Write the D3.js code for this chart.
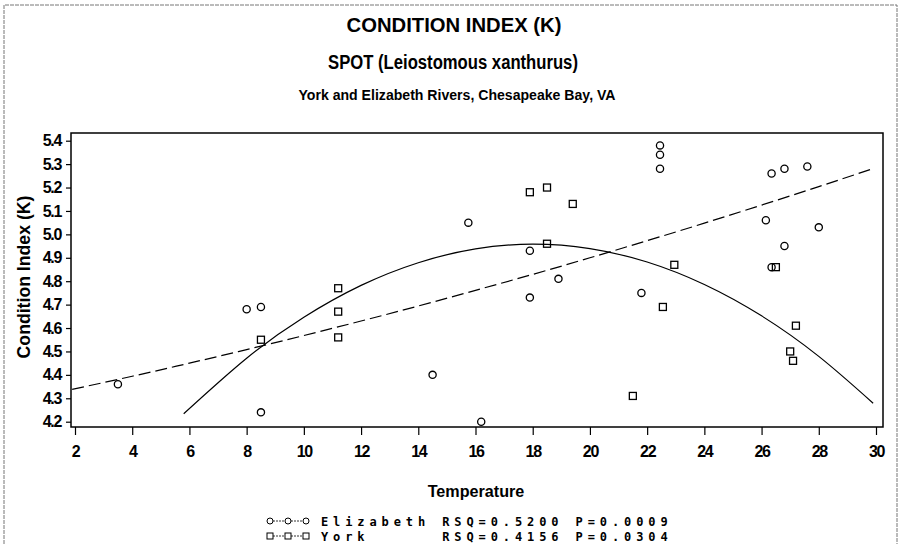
<!DOCTYPE html>
<html>
<head>
<meta charset="utf-8">
<script src="https://cdn.jsdelivr.net/npm/d3@7"></script>
<style>
  body { margin: 0; background: #fff; }
  text { font-family: "Liberation Sans", Arial, sans-serif; font-weight: bold; fill: #000; }
</style>
</head>
<body>
<div id="chart"></div>
<script>
// Data
const xTicks = [2, 4, 6, 8, 10, 12, 14, 16, 18, 20, 22, 24, 26, 28, 30];
const yTicks = [4.2, 4.3, 4.4, 4.5, 4.6, 4.7, 4.8, 4.9, 5.0, 5.1, 5.2, 5.3, 5.4];

// Elizabeth River (circles)
const elizTemp = [3.5, 8.0, 8.5, 8.5, 14.5, 15.75, 16.2, 17.9, 17.9, 18.9, 21.8, 22.45, 22.45, 22.45, 26.15, 26.35, 26.35, 26.8, 26.8, 27.6, 28.0];
const elizK    = [4.36, 4.68, 4.69, 4.24, 4.40, 5.05, 4.20, 4.93, 4.73, 4.81, 4.75, 5.38, 5.34, 5.28, 5.06, 5.26, 4.86, 5.28, 4.95, 5.29, 5.03];

// York River (squares)
const yorkTemp = [8.5, 11.2, 11.2, 11.2, 17.9, 18.5, 18.5, 19.4, 21.5, 22.55, 22.95, 26.5, 27.0, 27.1, 27.2];
const yorkK    = [4.55, 4.77, 4.67, 4.56, 5.18, 5.20, 4.96, 5.13, 4.31, 4.69, 4.87, 4.86, 4.50, 4.46, 4.61];

// Fitted curves
const elizFitTemp = [1.9, 4, 6, 8, 10, 12, 14, 16, 18, 20, 22, 24, 26, 28, 29.9];
const elizFitK    = [4.338, 4.394, 4.450, 4.508, 4.568, 4.630, 4.694, 4.761, 4.829, 4.900, 4.973, 5.048, 5.125, 5.204, 5.281];
const yorkFitTemp = [5.8, 8, 10, 12, 14, 16, 18, 20, 22, 24, 26, 28, 29.9];
const yorkFitK    = [4.234, 4.471, 4.646, 4.782, 4.879, 4.938, 4.958, 4.939, 4.882, 4.786, 4.652, 4.479, 4.279];

const legendRows = [
  { name: "Elizabeth", rsq: "0.5200", p: "0.0009", shape: "circle" },
  { name: "York", rsq: "0.4156", p: "0.0304", shape: "square" }
];

// Narrow bold text: centred at (x, y), squeezed horizontally
function label(svg, x, y, size, squeeze, str, rotate) {
  return svg.append("text")
    .attr("transform", `translate(${x},${y})${rotate ? " rotate(-90)" : ""} scale(${squeeze},1)`)
    .attr("text-anchor", "middle")
    .style("font-size", size + "px")
    .text(str);
}

function renderChart() {
  const width = 903;
  const height = 544;
  const frame = { left: 71, right: 883, top: 133, bottom: 427 };

  const svg = d3.select("#chart")
    .append("svg")
    .attr("width", width)
    .attr("height", height);

  // Outer page border (no bottom edge)
  svg.append("path")
    .attr("d", `M4,${height} L4,5 L897,5 L897,${height}`)
    .attr("fill", "none")
    .attr("stroke", "#777")
    .attr("stroke-width", 1)
    .attr("stroke-dasharray", "4,1");

  // Scales
  const x = d3.scaleLinear().domain([2, 30]).range([75, 876]);
  const y = d3.scaleLinear().domain([4.2, 5.4]).range([421.7, 140.7]);

  // Titles
  label(svg, 454, 32, 21, 0.965, "CONDITION INDEX (K)");
  label(svg, 453, 69, 19.5, 0.855, "SPOT (Leiostomous xanthurus)");
  label(svg, 457, 100, 15.5, 0.91, "York and Elizabeth Rivers, Chesapeake Bay, VA");

  // Axes
  const xAxis = svg.append("g")
    .attr("transform", `translate(0,${frame.bottom})`)
    .call(d3.axisBottom(x).tickValues(xTicks).tickSize(8).tickPadding(11).tickFormat(d3.format("d")));
  const yAxis = svg.append("g")
    .attr("transform", `translate(${frame.left},0)`)
    .call(d3.axisLeft(y).tickValues(yTicks).tickSize(5).tickPadding(5).tickFormat(d3.format(".1f")));

  [xAxis, yAxis].forEach(g => {
    g.select(".domain").remove();
    g.selectAll("line").attr("stroke", "#000").attr("stroke-width", 1.2);
    g.selectAll("text")
      .attr("fill", "#000")
      .style("font-family", "'Liberation Sans', Arial, sans-serif")
      .style("font-weight", "bold")
      .style("font-size", "16px")
      .style("letter-spacing", "-1.3px");
  });

  // Plot frame
  svg.append("rect")
    .attr("x", frame.left)
    .attr("y", frame.top)
    .attr("width", frame.right - frame.left)
    .attr("height", frame.bottom - frame.top)
    .attr("fill", "none")
    .attr("stroke", "#000")
    .attr("stroke-width", 1.5);

  // Axis labels
  label(svg, 476, 497, 17, 0.95, "Temperature");
  label(svg, 30, 277, 19, 0.93, "Condition Index (K)", true);

  // Fitted lines
  const line = d3.line()
    .x(d => x(d[0]))
    .y(d => y(d[1]))
    .curve(d3.curveNatural);

  svg.append("path")
    .datum(d3.zip(elizFitTemp, elizFitK))
    .attr("d", line)
    .attr("fill", "none")
    .attr("stroke", "#000")
    .attr("stroke-width", 1.2)
    .attr("stroke-dasharray", "12,5");

  svg.append("path")
    .datum(d3.zip(yorkFitTemp, yorkFitK))
    .attr("d", line)
    .attr("fill", "none")
    .attr("stroke", "#000")
    .attr("stroke-width", 1.2);

  // Points
  svg.selectAll("circle.eliz")
    .data(d3.zip(elizTemp, elizK))
    .enter()
    .append("circle")
    .attr("class", "eliz")
    .attr("cx", d => x(d[0]))
    .attr("cy", d => y(d[1]))
    .attr("r", 3.6)
    .attr("fill", "none")
    .attr("stroke", "#000")
    .attr("stroke-width", 1.3);

  const sq = 7;
  svg.selectAll("rect.york")
    .data(d3.zip(yorkTemp, yorkK))
    .enter()
    .append("rect")
    .attr("class", "york")
    .attr("x", d => x(d[0]) - sq / 2)
    .attr("y", d => y(d[1]) - sq / 2)
    .attr("width", sq)
    .attr("height", sq)
    .attr("fill", "none")
    .attr("stroke", "#000")
    .attr("stroke-width", 1.3);

  // Legend
  const legend = svg.selectAll("g.legend")
    .data(legendRows)
    .enter()
    .append("g")
    .attr("class", "legend")
    .attr("transform", (d, i) => `translate(0,${521 + i * 15})`);

  legend.append("line")
    .attr("x1", 270).attr("x2", 306)
    .attr("y1", 0).attr("y2", 0)
    .attr("stroke", "#000")
    .attr("stroke-width", 0.8)
    .attr("stroke-dasharray", "2,1");

  [270, 288, 306].forEach(cx => {
    legend.filter(d => d.shape === "circle").append("circle")
      .attr("cx", cx).attr("cy", 0).attr("r", 3)
      .attr("fill", "#fff").attr("stroke", "#000").attr("stroke-width", 1);
    legend.filter(d => d.shape === "square").append("rect")
      .attr("x", cx - 3).attr("y", -3).attr("width", 6).attr("height", 6)
      .attr("fill", "#fff").attr("stroke", "#000").attr("stroke-width", 1);
  });

  legend.append("text")
    .attr("x", 321)
    .attr("y", 4.5)
    .attr("xml:space", "preserve")
    .style("white-space", "pre")
    .style("font-family", "'DejaVu Sans Mono', monospace")
    .style("font-size", "12px")
    .style("letter-spacing", "4.9px")
    .text(d => `${d.name.padEnd(10, " ")}RSQ=${d.rsq} P=${d.p}`);
}

renderChart();
</script>
</body>
</html>
